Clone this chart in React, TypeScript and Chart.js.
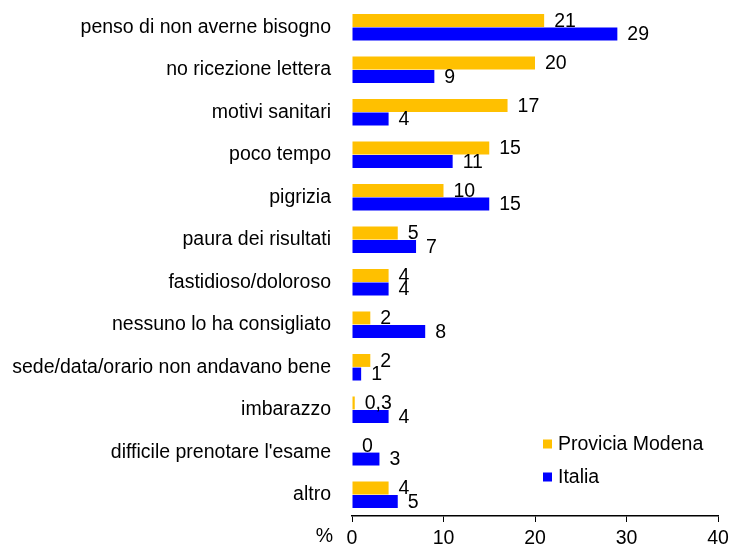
import React, { useEffect, useRef } from "react";
import { Chart, registerables } from "chart.js";

Chart.register(...registerables);

const categories = [
  "penso di non averne bisogno",
  "no ricezione lettera",
  "motivi sanitari",
  "poco tempo",
  "pigrizia",
  "paura dei risultati",
  "fastidioso/doloroso",
  "nessuno lo ha consigliato",
  "sede/data/orario non andavano bene",
  "imbarazzo",
  "difficile prenotare l'esame",
  "altro",
];
const modena = [21, 20, 17, 15, 10, 5, 4, 2, 2, 0.3, 0, 4];
const italia = [29, 9, 4, 11, 15, 7, 4, 8, 1, 4, 3, 5];
const xTicks = [0, 10, 20, 30, 40];
const seriesNames = ["Provicia Modena", "Italia"];
const seriesColors = ["#FFC000", "#0000FF"];
const unitLabel = "%";

const FONT = "'Liberation Sans', Arial, sans-serif";
const FS = 19.5;

const fmt = (v: number) => String(v).replace(".", ",");

const labelsPlugin = {
  id: "valueLabels",
  afterDatasetsDraw(chart: any) {
    const ctx = chart.ctx;
    ctx.save();
    ctx.font = `${FS}px ${FONT}`;
    ctx.fillStyle = "#000";
    ctx.textAlign = "left";
    ctx.textBaseline = "middle";
    chart.data.datasets.forEach((ds: any, di: number) => {
      const meta = chart.getDatasetMeta(di);
      meta.data.forEach((bar: any, i: number) => {
        ctx.fillText(fmt(ds.data[i]), bar.x + 10, bar.y + 1);
      });
    });
    // unit label
    const ca = chart.chartArea;
    ctx.textAlign = "right";
    ctx.fillText(unitLabel, ca.left - 19, ca.bottom + 21);
    // legend
    ctx.textAlign = "left";
    const lx = ca.left + 191;
    let ly = ca.bottom - 72;
    chart.data.datasets.forEach((ds: any) => {
      ctx.fillStyle = ds.backgroundColor;
      ctx.fillRect(lx, ly - 4.5, 9, 9);
      ctx.fillStyle = "#000";
      ctx.fillText(ds.label, lx + 15, ly + 1);
      ly += 33;
    });
    ctx.restore();
  },
};

export default function App() {
  const ref = useRef<HTMLCanvasElement>(null);
  useEffect(() => {
    if (!ref.current) return;
    const chart = new Chart(ref.current, {
      type: "bar",
      data: {
        labels: categories,
        datasets: [
          { label: seriesNames[0], data: modena, backgroundColor: seriesColors[0] },
          { label: seriesNames[1], data: italia, backgroundColor: seriesColors[1] },
        ],
      },
      options: {
        indexAxis: "y",
        responsive: false,
        animation: false,
        events: [],
        layout: { padding: { top: 6, right: 12, left: 0, bottom: 0 } },
        datasets: { bar: { categoryPercentage: 0.64, barPercentage: 0.95 } },
        plugins: { legend: { display: false }, tooltip: { enabled: false } },
        scales: {
          x: {
            min: 0,
            max: 40,
            afterFit: (s: any) => { s.height = 30; s.paddingLeft = 0; s.paddingRight = 0; },
            afterBuildTicks: (s: any) => { s.ticks = xTicks.map((v) => ({ value: v })); },
            grid: { display: true, drawOnChartArea: false, drawTicks: true, tickLength: 6, color: "#000", lineWidth: 1 },
            border: { display: true, color: "#000", width: 1.5 },
            ticks: { color: "#000", font: { family: FONT, size: FS }, padding: 5, maxRotation: 0 },
          },
          y: {
            afterFit: (s: any) => { s.width = 352; s.paddingTop = 0; s.paddingBottom = 0; },
            grid: { display: false, drawTicks: false },
            border: { display: false },
            ticks: { color: "#000", font: { family: FONT, size: FS }, padding: 21, autoSkip: false },
          },
        },
      },
      plugins: [labelsPlugin],
    } as any);
    return () => chart.destroy();
  }, []);
  return (
    <div style={{ position: "fixed", left: 0, top: 0, width: 730, height: 546, background: "#fff" }}>
      <canvas ref={ref} width={730} height={546} style={{ display: "block" }} />
    </div>
  );
}
